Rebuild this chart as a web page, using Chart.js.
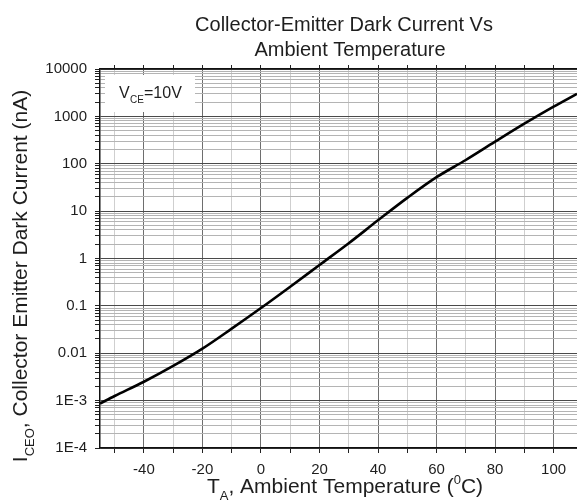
<!DOCTYPE html>
<html>
<head>
<meta charset="utf-8">
<script src="https://cdn.jsdelivr.net/npm/chart.js@4.4.1/dist/chart.umd.min.js"></script>
<style>
  html, body { margin: 0; padding: 0; background: #fff; }
  #wrap { width: 577px; height: 502px; }
</style>
</head>
<body>
<div id="wrap"><canvas id="chart" width="577" height="502"></canvas></div>
<script>
// ── Data ──────────────────────────────────────────────────
const temps    = [-55, -50, -40, -30, -20, -10, 0, 10, 20, 30, 40, 50, 60, 70, 80, 90, 100, 108];
const darkNA   = [8.7e-4, 1.25e-3, 2.5e-3, 5.4e-3, 0.0125, 0.033, 0.09, 0.254, 0.73, 2.1, 6.4, 19, 52, 120, 292, 700, 1600, 3000];
const xTicks   = [-50, -40, -30, -20, -10, 0, 10, 20, 30, 40, 50, 60, 70, 80, 90, 100];
const xLabeled = [-40, -20, 0, 20, 40, 60, 80, 100];
const yDecades = [-4, -3, -2, -1, 0, 1, 2, 3, 4];
const yLabels  = { '-4': '1E-4', '-3': '1E-3', '-2': '0.01', '-1': '0.1', '0': '1', '1': '10', '2': '100', '3': '1000', '4': '10000' };

const FONT = '"Liberation Sans", Arial, sans-serif';
const TXT  = '#1e1e1e';

function decadeOf(v) { return Math.round(Math.log10(v)); }
function isDecade(v) { return Math.abs(Math.log10(v) - decadeOf(v)) < 1e-6; }

// draw text made of runs, some sub/superscript
function drawRuns(ctx, runs, size, cx, baseline) {
  const small = Math.round(size * 0.62);
  let total = 0;
  runs.forEach(r => {
    ctx.font = `${r.sub || r.sup ? small : size}px ${FONT}`;
    r.w = ctx.measureText(r.t).width;
    total += r.w;
  });
  let x = cx - total / 2;
  runs.forEach(r => {
    ctx.font = `${r.sub || r.sup ? small : size}px ${FONT}`;
    const dy = r.sub ? size * 0.32 : r.sup ? -size * 0.45 : 0;
    ctx.fillText(r.t, x, baseline + dy);
    x += r.w;
  });
}

const annotations = {
  id: 'annotations',
  beforeDraw(chart) {
    const { ctx } = chart;
    ctx.save();
    ctx.fillStyle = '#fff';
    ctx.fillRect(0, 0, chart.width, chart.height);
    ctx.restore();
  },
  afterDatasetsDraw(chart) {
    const { ctx, chartArea: a } = chart;
    ctx.save();
    // V_CE box
    ctx.fillStyle = '#fff';
    ctx.fillRect(a.left + 5, a.top + 6, 90, 37);
    ctx.fillStyle = TXT;
    ctx.textBaseline = 'alphabetic';
    ctx.textAlign = 'left';
    ctx.font = `16px ${FONT}`;
    ctx.fillText('V', a.left + 19, a.top + 29);
    ctx.font = `10px ${FONT}`;
    ctx.fillText('CE', a.left + 30, a.top + 34);
    ctx.font = `16px ${FONT}`;
    ctx.fillText('=10V', a.left + 44, a.top + 29);
    ctx.restore();
  },
  afterDraw(chart) {
    const { ctx } = chart;
    ctx.save();
    ctx.fillStyle = TXT;
    ctx.textAlign = 'left';
    ctx.textBaseline = 'alphabetic';
    // title
    drawRuns(ctx, [{ t: 'Collector-Emitter Dark Current Vs' }], 20, 344, 31);
    drawRuns(ctx, [{ t: 'Ambient Temperature' }], 20, 350, 56);
    // x title
    drawRuns(ctx, [{ t: 'T' }, { t: 'A', sub: true }, { t: ', Ambient Temperature (' }, { t: '0', sup: true }, { t: 'C)' }], 21, 345, 493);
    // y title
    ctx.translate(27, 276);
    ctx.rotate(-Math.PI / 2);
    drawRuns(ctx, [{ t: 'I' }, { t: 'CEO', sub: true }, { t: ', Collector Emitter Dark Current (nA)' }], 21, 0, 0);
    ctx.restore();
  }
};

const yTickValues = [];
yDecades.forEach(e => {
  if (e === 4) { yTickValues.push(1e4); return; }
  for (let k = 1; k <= 9; k++) yTickValues.push(k * Math.pow(10, e));
});

new Chart(document.getElementById('chart'), {
  type: 'line',
  data: {
    datasets: [{
      data: temps.map((t, i) => ({ x: t, y: darkNA[i] })),
      borderColor: '#000',
      borderWidth: 2.6,
      pointRadius: 0,
      cubicInterpolationMode: 'monotone',
      fill: false,
    }]
  },
  options: {
    responsive: false,
    animation: false,
    layout: { padding: { left: 0, top: 65, right: 0, bottom: 0 } },
    plugins: { legend: { display: false }, tooltip: { enabled: false }, title: { display: false } },
    scales: {
      x: {
        type: 'linear',
        position: 'bottom',
        min: -55,
        max: 108,
        afterBuildTicks: s => { s.ticks = xTicks.map(v => ({ value: v })); },
        afterFit: s => { s.height = 54; },
        ticks: {
          autoSkip: false,
          maxRotation: 0,
          padding: 8,
          color: TXT,
          font: { family: FONT, size: 15 },
          callback: v => xLabeled.includes(v) ? String(v) : ''
        },
        grid: {
          color: c => (c.tick && c.tick.value % 20 === 0) ? '#6e6e6e' : '#cfcfcf',
          tickColor: '#222',
          tickLength: 5,
          lineWidth: 1,
        },
        border: { color: '#111', width: 1.5 }
      },
      xTop: {
        type: 'linear',
        position: 'top',
        min: -55,
        max: 108,
        afterBuildTicks: s => { s.ticks = xTicks.map(v => ({ value: v })); },
        afterFit: s => { s.height = 4; },
        ticks: { display: false },
        grid: { drawOnChartArea: false, tickColor: '#222', tickLength: 4 },
        border: { color: '#111', width: 1.5 }
      },
      y: {
        type: 'logarithmic',
        min: 1e-4,
        max: 1e4,
        afterBuildTicks: s => { s.ticks = yTickValues.map(v => ({ value: v, major: isDecade(v) })); },
        afterFit: s => { s.width = 100; },
        ticks: {
          autoSkip: false,
          padding: 8,
          color: TXT,
          font: { family: FONT, size: 15 },
          callback: v => isDecade(v) ? yLabels[String(decadeOf(v))] : ''
        },
        grid: {
          color: c => (c.tick && isDecade(c.tick.value)) ? '#4a4a4a' : '#b4b4b4',
          tickColor: '#222',
          tickLength: 5,
          lineWidth: 1,
        },
        border: { color: '#111', width: 1.5 }
      }
    }
  },
  plugins: [annotations]
});
</script>
</body>
</html>
